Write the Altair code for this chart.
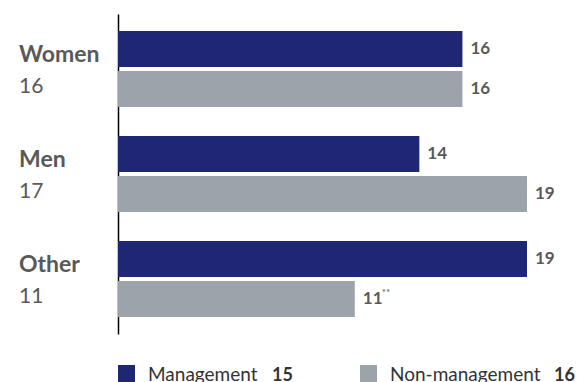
import altair as alt
import pandas as pd

groups = ["Women", "Men", "Other"]
group_totals = [16, 17, 11]
series = ["Management", "Non-management"]
series_totals = [15, 16]
management = [16, 14, 19]
non_management = [16, 19, 11]
non_management_notes = ["", "", "**"]

colors = ["#1f2775", "#9ca3aa"]
text_color = "#595959"
FONT = "Lato"

rows = []
for i, g in enumerate(groups):
    rows.append({"group": g, "series": series[0], "value": management[i], "note": ""})
    rows.append({"group": g, "series": series[1], "value": non_management[i], "note": non_management_notes[i]})
df = pd.DataFrame(rows)

labels_df = pd.DataFrame({"group": groups, "total": group_totals})

y_enc = alt.Y("group:N", sort=groups,
              scale=alt.Scale(paddingInner=0.276, paddingOuter=0.162),
              axis=alt.Axis(labels=False, ticks=False, title=None, domain=True,
                            domainColor="#000000", domainWidth=1.5, grid=False))
yoff = alt.YOffset("series:N", sort=series, scale=alt.Scale(paddingInner=0.1, paddingOuter=0))
x_enc = alt.X("value:Q", scale=alt.Scale(domain=[0, 19], nice=False), axis=None)
color_enc = alt.Color("series:N", sort=series, scale=alt.Scale(domain=series, range=colors), legend=None)

base = alt.Chart(df)
bars = base.mark_bar().encode(x=x_enc, y=y_enc, yOffset=yoff, color=color_enc)
values = base.mark_text(align="left", baseline="middle", dx=8, fontWeight="bold",
                        fontSize=17, font=FONT, color=text_color).encode(
    x=x_enc, y=alt.Y("group:N", sort=groups), yOffset=yoff, text="value:Q")
notes = base.mark_text(align="left", baseline="middle", dx=27, dy=-6,
                       fontSize=10, font=FONT, color=text_color).encode(
    x=x_enc, y=alt.Y("group:N", sort=groups), yOffset=yoff, text="note:N")

lbase = alt.Chart(labels_df)
names = lbase.mark_text(align="left", baseline="alphabetic", dy=-7, fontWeight="bold",
                        fontSize=23, font=FONT, color=text_color).encode(
    x=alt.value(-99), y=alt.Y("group:N", sort=groups), text="group:N")
totals = lbase.mark_text(align="left", baseline="alphabetic", dy=24,
                         fontSize=21, font=FONT, color=text_color).encode(
    x=alt.value(-99), y=alt.Y("group:N", sort=groups), text="total:Q")

leg_df = pd.DataFrame({"series": series, "total": series_totals})
leg_layers = []
leg_x = [0, 242]
leg_num_x = [154, 436]
for i, s in enumerate(series):
    d = alt.Chart(leg_df).transform_filter(alt.datum.series == s)
    leg_layers.append(d.mark_rect(color=colors[i]).encode(
        x=alt.value(leg_x[i]), x2=alt.value(leg_x[i] + 17),
        y=alt.value(351), y2=alt.value(368)))
    leg_layers.append(d.mark_text(align="left", baseline="alphabetic", fontSize=19,
                                  font=FONT, color="#333333").encode(
        x=alt.value(leg_x[i] + 30), y=alt.value(367), text="series:N"))
    leg_layers.append(d.mark_text(align="left", baseline="alphabetic", fontSize=18,
                                  fontWeight="bold", font=FONT, color="#333333").encode(
        x=alt.value(leg_num_x[i]), y=alt.value(367), text="total:Q"))

chart = alt.layer(bars, values, notes, names, totals, *leg_layers).properties(
    width=409, height=320,
    background="white",
    autosize=alt.AutoSizeParams(type="none"),
    padding={"left": 110, "top": 6, "right": 48, "bottom": 48},
).configure_view(stroke=None, strokeWidth=0)

chart.save("out.html", embed_options={"renderer": "svg", "actions": False})
